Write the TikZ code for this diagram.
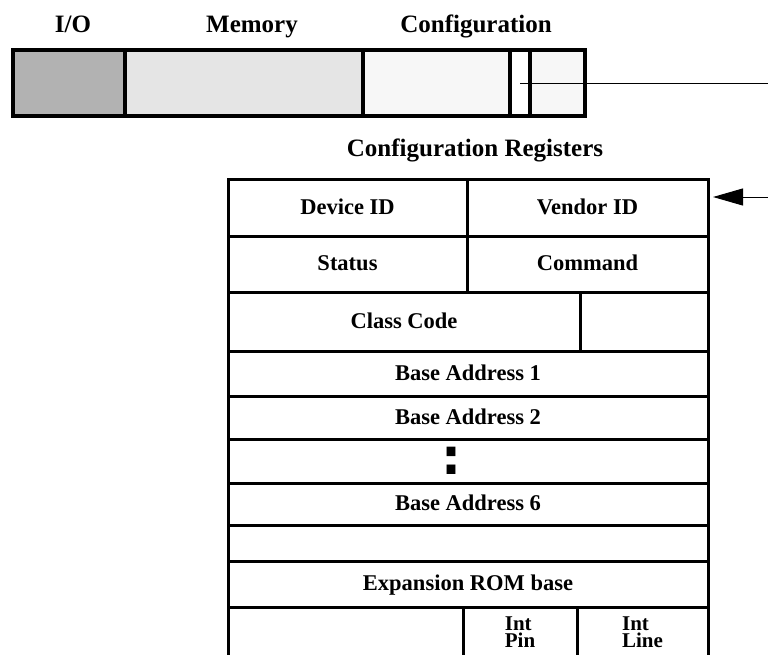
\documentclass[tikz,border=0pt]{standalone}
\usepackage{fontspec}
\setmainfont{Liberation Serif}
\newfontfamily\dotfont{DejaVu Sans}
\usetikzlibrary{arrows.meta, positioning}
\tikzstyle{cell} = [draw=black, line width=3pt, rectangle, inner sep=0pt, outer sep=0pt, align=center, text depth=0.25em, font=\fontsize{22.5}{14}\selectfont\bfseries]
\tikzstyle{wide} = [minimum width=480]
\tikzstyle{bar} = [draw=black, line width=3.5pt, rectangle, inner sep=0pt, outer sep=0pt, minimum height=66]
\tikzstyle{head} = [anchor=base, inner sep=0pt, font=\fontsize{25}{26}\selectfont\bfseries]
\tikzstyle{wire} = [line width=1pt, draw=black]
\tikzstyle{small} = [align=left, text depth=0pt, font=\fontsize{21}{17}\selectfont\bfseries]

\begin{document}
\begin{tikzpicture}[x=1pt, y=-1pt]
        \useasboundingbox (0,0) rectangle (768,654);

        % address spaces
        \node (io) [bar, fill=black!30, minimum width=112, anchor=north west] at (13,50) {};
        \node (mem) [bar, fill=black!10, minimum width=238, right=0pt of io] {};
        \node (cfg) [bar, fill=black!3, minimum width=222, right=0pt of mem] {};
        \node (slot) [bar, fill=white, minimum width=20, anchor=north west] at (510,50) {};

        \node (iolbl) [head] at (73,32) {I/O};
        \node (memlbl) [head] at (252,32) {Memory};
        \node (cfglbl) [head] at (476,32) {Configuration};
        \node (title) [head] at (475,156) {Configuration Registers};

        % register table
        \node (devid) [cell, minimum width=239, minimum height=57, anchor=north west] at (228,179) {Device ID};
        \node (vendid) [cell, minimum width=241, minimum height=57, right=0pt of devid] {Vendor ID};
        \node (status) [cell, minimum width=239, minimum height=56, below=0pt of devid] {Status};
        \node (cmd) [cell, minimum width=241, minimum height=56, below=0pt of vendid] {Command};
        \node (class) [cell, minimum width=352, minimum height=59, anchor=north west] at (status.south west) {Class Code};
        \node (rev) [cell, minimum width=128, minimum height=59, right=0pt of class] {};
        \node (bar1) [cell, wide, minimum height=45, anchor=north west] at (class.south west) {Base Address 1};
        \node (bar2) [cell, wide, minimum height=43, below=0pt of bar1] {Base Address 2};
        \node (gap) [cell, wide, minimum height=44, below=0pt of bar2] {};
        \node (bar6) [cell, wide, minimum height=42, below=0pt of gap] {Base Address 6};
        \node (spare) [cell, wide, minimum height=36, below=0pt of bar6] {};
        \node (rom) [cell, wide, minimum height=46, below=0pt of spare] {Expansion ROM base};
        \node (resv) [cell, minimum width=235, minimum height=50, anchor=north west] at (rom.south west) {};
        \node (intpin) [cell, small, minimum width=114, minimum height=50, right=0pt of resv] {Int\\Pin};
        \node (intline) [cell, small, minimum width=131, minimum height=50, right=0pt of intpin] {Int\\Line};

        \node (dots) [inner sep=0pt, font=\dotfont\bfseries\fontsize{50}{50}\selectfont, xshift=-17pt] at (gap.center) {:};

        % pointer from the configuration slot
        \coordinate (out) at (768,81);
        \coordinate (in) at (768,197);
        \draw [wire] (slot.center) -- (slot.center -| out);
        \draw [wire, -{Triangle[length=30pt,width=17pt]}, shorten >=5pt] (in) -- (in -| vendid.east);

\end{tikzpicture}
\end{document}
